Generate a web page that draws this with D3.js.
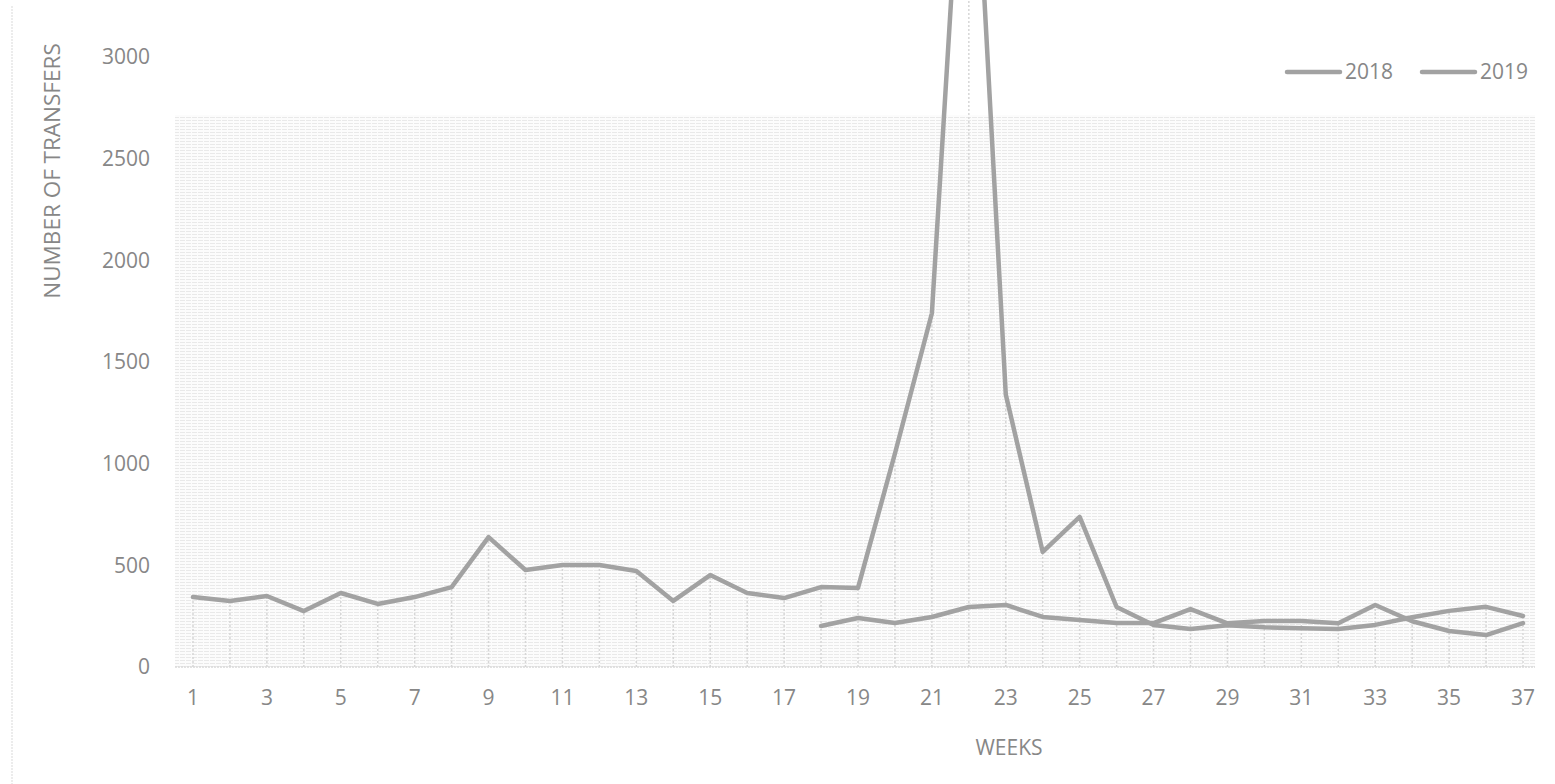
<!DOCTYPE html>
<html>
<head>
<meta charset="utf-8">
<script src="https://cdn.jsdelivr.net/npm/d3@7"></script>
<style>
  html, body { margin: 0; padding: 0; background: #fff; }
  svg { display: block; font-family: "Open Sans", "Liberation Sans", sans-serif; }
</style>
</head>
<body>
<svg id="chart" width="1555" height="784"></svg>
<script>
// ---- data ----
const weeks = d3.range(1, 38);
const seriesNames = ["2018", "2019"];
const values2018 = [344, 325, 349, 275, 364, 310, 344, 393, 639, 477,
                    502, 502, 472, 325, 452, 364, 339, 393, 389, 1050,
                    1740, 4700, 1340, 566, 738, 295, 207, 187, 205, 195,
                    190, 187, 207, 245, 276, 296, 251];
const weeks2019 = d3.range(18, 38);
const values2019 = [202, 241, 216, 246, 295, 305, 246, 231, 216, 216,
                    285, 215, 226, 226, 215, 305, 225, 177, 157, 216];
const yTicks = [0, 500, 1000, 1500, 2000, 2500, 3000];
const xTicks = d3.range(1, 38, 2);

// ---- layout ----
const svg = d3.select("#chart");
const x = d3.scaleLinear().domain([1, 37]).range([193, 1523]);
const y = d3.scaleLinear().domain([0, 3000]).range([667, 57]);
const textColor = "#878787";
const lineColor = "#a2a2a2";

// pattern fill for plot area
const defs = svg.append("defs");
const pat = defs.append("pattern").attr("id", "tex").attr("patternUnits", "userSpaceOnUse")
  .attr("width", 6).attr("height", 3);
pat.append("rect").attr("width", 6).attr("height", 3).attr("fill", "#fcfcfc");
pat.append("rect").attr("x", 0).attr("y", 0).attr("width", 5).attr("height", 1).attr("fill", "#e9e9e9");

svg.append("rect").attr("x", 175).attr("y", 115).attr("width", 1360).attr("height", 552)
  .attr("fill", "url(#tex)");

// left chart border (faint)
svg.append("line").attr("x1", 12).attr("x2", 12).attr("y1", 6).attr("y2", 784)
  .attr("stroke", "#e6e6e6").attr("stroke-width", 1.5).attr("stroke-dasharray", "2,1");

// drop lines
const s19 = new Map(weeks2019.map((w, i) => [w, values2019[i]]));
svg.append("g").selectAll("line").data(weeks).join("line")
  .attr("x1", d => x(d)).attr("x2", d => x(d))
  .attr("y1", y(0))
  .attr("y2", (d, i) => y(Math.max(values2018[i], s19.has(d) ? s19.get(d) : 0)))
  .attr("stroke", "#d6d6d6").attr("stroke-width", 1.5).attr("stroke-dasharray", "2,2");

// x axis line
svg.append("line").attr("x1", 175).attr("x2", 1535).attr("y1", y(0)).attr("y2", y(0))
  .attr("stroke", "#d9d9d9").attr("stroke-width", 1.5).attr("stroke-dasharray", "2,1");

// y tick labels
svg.append("g").selectAll("text").data(yTicks).join("text")
  .attr("x", 150).attr("y", d => y(d)).attr("dy", "0.35em")
  .attr("text-anchor", "end").attr("fill", textColor).attr("font-size", 21)
  .text(d => d);

// x tick labels
svg.append("g").selectAll("text").data(xTicks).join("text")
  .attr("x", d => x(d)).attr("y", 698).attr("dy", "0.35em")
  .attr("text-anchor", "middle").attr("fill", textColor).attr("font-size", 21)
  .text(d => d);

// axis titles
svg.append("text").attr("x", 1009).attr("y", 748).attr("dy", "0.35em")
  .attr("text-anchor", "middle").attr("fill", textColor).attr("font-size", 21)
  .text("WEEKS");
svg.append("text").attr("transform", "translate(52,171) rotate(-90)").attr("dy", "0.35em")
  .attr("text-anchor", "middle").attr("fill", textColor).attr("font-size", 22.5)
  .text("NUMBER OF TRANSFERS");

// lines
const line = d3.line().x(d => x(d[0])).y(d => y(d[1]));
const data2018 = weeks.map((w, i) => [w, values2018[i]]);
const data2019 = weeks2019.map((w, i) => [w, values2019[i]]);
[data2018, data2019].forEach(dd => {
  svg.append("path").datum(dd).attr("d", line)
    .attr("fill", "none").attr("stroke", lineColor).attr("stroke-width", 4.5)
    .attr("stroke-linejoin", "round").attr("stroke-linecap", "round");
});

// legend
const legX = [1287, 1422];
seriesNames.forEach((name, i) => {
  svg.append("line").attr("x1", legX[i]).attr("x2", legX[i] + 53).attr("y1", 72).attr("y2", 72)
    .attr("stroke", lineColor).attr("stroke-width", 4.5).attr("stroke-linecap", "round");
  svg.append("text").attr("x", legX[i] + 58).attr("y", 72).attr("dy", "0.35em")
    .attr("fill", textColor).attr("font-size", 21).text(name);
});
</script>
</body>
</html>
